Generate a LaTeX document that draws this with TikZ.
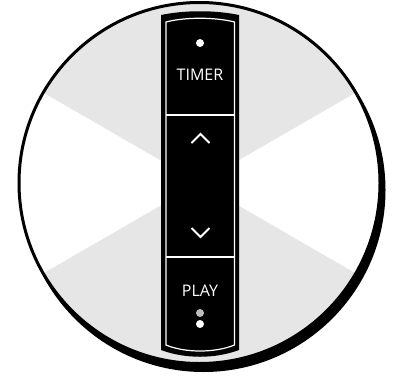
\documentclass[tikz,border=0pt]{standalone}
\usepackage{fontspec}
\setsansfont{Open Sans}
\definecolor{dialgray}{HTML}{E6E6E6}
\definecolor{dotgray}{HTML}{BDBDBD}
\begin{document}
\begin{tikzpicture}[x=1pt, y=-1pt,
  label/.style={text=white, font=\sffamily\fontsize{16}{16}\selectfont, inner sep=0pt},
  dot/.style={circle, fill=white, minimum size=8pt, inner sep=0pt},
  chevron/.style={draw=white, line width=1.9pt},
  rim/.style={white, line width=1.2pt}
]
  \useasboundingbox (0,0) rectangle (393,375);
  % dial with shadow and light wedges
  \coordinate (centre) at (199.5,183);
  \fill[black] (203.5,190) circle[radius=182pt];
  \fill[dialgray] (centre) circle[radius=180.5pt];
  \begin{scope}
    \clip (centre) circle[radius=180.5pt];
    \fill[white] (centre) -- ++(216.5,125) -- ++(0,-250) -- cycle;
    \fill[white] (centre) -- ++(-216.5,125) -- ++(0,-250) -- cycle;
  \end{scope}
  \draw[line width=3pt] (centre) circle[radius=180.5pt];

  % control strip
  \fill[black] (161,15) .. controls (185,10) and (215,10) .. (239,15)
    -- (239,350) .. controls (215,359) and (185,359) .. (161,350) -- cycle;
  \draw[rim] (166,22) .. controls (185,17) and (215,17) .. (234.5,22)
    -- (234.5,345) .. controls (215,353) and (185,353) .. (166,345) -- cycle;
  \draw[rim] (166,115) -- (234.5,115);
  \draw[rim] (166,257) -- (234.5,257);

  % buttons
  \node[dot] (timerdot) at (200,43) {};
  \node[label] (timer) at (200,75) {TIMER};
  \draw[chevron] (191.5,143) -- (200.5,134) -- (209.5,143);
  \draw[chevron] (191.5,228) -- (200.5,237) -- (209.5,228);
  \node[label] (play) at (200,291) {PLAY};
  \node[dot, fill=dotgray] (playdot) at (200,313) {};
  \node[dot] (playdotb) at (200,324) {};
\end{tikzpicture}
\end{document}
